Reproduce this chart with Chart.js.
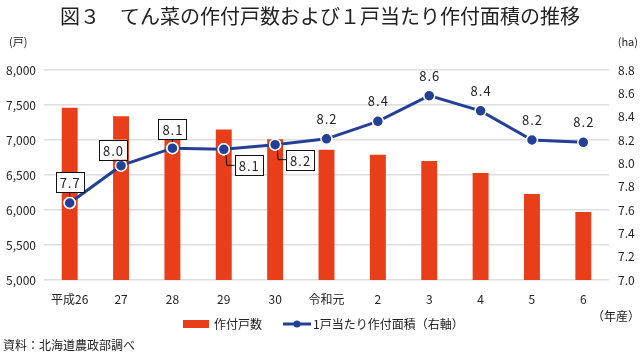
<!DOCTYPE html>
<html><head><meta charset="utf-8">
<script src="https://cdn.jsdelivr.net/npm/chart.js@4/dist/chart.umd.min.js"></script>
<style>html,body{margin:0;padding:0;background:#fff;}canvas{display:block;}</style>
</head><body>
<canvas id="c" width="640" height="355"></canvas>
<script>
const categories = ['平成26','27','28','29','30','令和元','2','3','4','5','6'];
const households = [7460,7340,7240,7150,7010,6860,6790,6700,6530,6230,5970];
const areaPerHousehold = [7.66,7.98,8.13,8.12,8.16,8.21,8.36,8.58,8.45,8.20,8.18];
const areaLabels = ['7.7','8.0','8.1','8.1','8.2','8.2','8.4','8.6','8.4','8.2','8.2'];
const leftAxis = {min:5000, max:8000, step:500};
const rightAxis = {min:7.0, max:8.8, step:0.2};
const seriesNames = ['作付戸数','1戸当たり作付面積（右軸）'];
const titleText = '図３　てん菜の作付戸数および１戸当たり作付面積の推移';

const FONT = '"Noto Sans CJK JP","Noto Sans",sans-serif';
const RED = '#e83e1a';
const NAVY = '#233f96';
const TXT = '#222';

const deco = {
  id:'deco',
  afterDatasetsDraw(chart){
    const ctx = chart.ctx;
    const meta = chart.getDatasetMeta(1);
    ctx.save();
    ctx.font = '13px ' + FONT;
    if ('letterSpacing' in ctx) ctx.letterSpacing = '1px';
    ctx.textAlign = 'center';
    ctx.textBaseline = 'middle';
    ctx.lineWidth = 1;
    ctx.strokeStyle = '#111';
    meta.data.forEach((pt, i) => {
      const x = pt.x, y = pt.y;
      const t = areaLabels[i];
      const bw = 28, bh = 20;
      let cx, cy, boxed = true;
      if (i === 0) { cx = x; cy = y - 21; }
      else if (i === 1) { cx = x - 8; cy = y - 16; }
      else if (i === 2) { cx = x; cy = y - 19; }
      else if (i === 3) { cx = x + 25; cy = y + 16; }
      else if (i === 4) { cx = x + 25; cy = y + 15; }
      else { boxed = false; cx = x; cy = y - 21; }
      if (boxed) {
        ctx.beginPath();
        if (i === 3 || i === 4) {
          ctx.moveTo(x + 2, y + 3);
          ctx.lineTo(x + 3, cy);
          ctx.lineTo(cx - bw/2, cy);
        } else if (i === 1) {
          ctx.moveTo(cx + 2, cy + bh/2);
          ctx.lineTo(x, y);
        } else {
          ctx.moveTo(x, cy + bh/2);
          ctx.lineTo(x, y);
        }
        ctx.stroke();
        ctx.beginPath();
        ctx.arc(x, y, 5.5, 0, Math.PI*2);
        ctx.fillStyle = NAVY; ctx.fill();
        ctx.strokeStyle = '#fff'; ctx.lineWidth = 1.5; ctx.stroke();
        ctx.strokeStyle = '#111'; ctx.lineWidth = 1;
        ctx.fillStyle = '#fff';
        ctx.fillRect(cx - bw/2, cy - bh/2, bw, bh);
        ctx.strokeRect(Math.round(cx - bw/2) + 0.5, Math.round(cy - bh/2) + 0.5, bw, bh);
      }
      ctx.fillStyle = TXT;
      ctx.fillText(t, cx + 0.5, cy + 1);
    });
    ctx.restore();
  },
  afterDraw(chart){
    const ctx = chart.ctx;
    ctx.save();
    ctx.fillStyle = TXT;
    ctx.textBaseline = 'middle';
    ctx.font = '20px ' + FONT;
    ctx.textAlign = 'center';
    ctx.fillText(titleText, 320, 16);
    ctx.font = '11px ' + FONT;
    ctx.textAlign = 'left';
    ctx.fillText('(戸)', 9, 42);
    ctx.textAlign = 'right';
    ctx.fillText('(ha)', 638, 42);
    ctx.font = '12px ' + FONT;
    ctx.fillText('（年産）', 640, 316);
    ctx.textAlign = 'left';
    ctx.fillText('資料：北海道農政部調べ', 3, 345);
    ctx.fillStyle = RED;
    ctx.fillRect(183, 320, 26, 8);
    ctx.fillStyle = TXT;
    ctx.fillText(seriesNames[0], 214, 324);
    ctx.strokeStyle = NAVY; ctx.lineWidth = 3;
    ctx.beginPath(); ctx.moveTo(283, 324); ctx.lineTo(311, 324); ctx.stroke();
    ctx.beginPath(); ctx.arc(297, 324, 3.5, 0, Math.PI*2); ctx.fillStyle = NAVY; ctx.fill();
    ctx.fillStyle = TXT;
    ctx.fillText(seriesNames[1], 313, 324);
    ctx.restore();
  }
};

new Chart(document.getElementById('c'), {
  data: {
    labels: categories,
    datasets: [
      { type:'bar', label: seriesNames[0], data: households, yAxisID:'y',
        backgroundColor: RED, borderWidth: 0, barPercentage: 0.31, categoryPercentage: 1.0, order: 2 },
      { type:'line', label: seriesNames[1], data: areaPerHousehold, yAxisID:'y1',
        borderColor: NAVY, borderWidth: 3, tension: 0,
        pointRadius: 5.5, pointBackgroundColor: NAVY, pointBorderColor:'#fff', pointBorderWidth:1.5, order: 1 }
    ]
  },
  options: {
    responsive:false, animation:false, devicePixelRatio:1,
    layout:{ padding:{ top:70, left:0, right:0, bottom:0 } },
    plugins:{ legend:{display:false}, title:{display:false}, tooltip:{enabled:false} },
    scales:{
      x:{ grid:{display:false}, border:{display:false},
          ticks:{ font:{size:12, family:FONT}, color:TXT, padding:4, maxRotation:0, autoSkip:false },
          afterFit(s){ s.height = 75; } },
      y:{ position:'left', min:leftAxis.min, max:leftAxis.max,
          grid:{ color:'#dedede', lineWidth:1.5, drawTicks:false }, border:{display:false},
          ticks:{ stepSize:leftAxis.step, font:{size:12, family:FONT}, color:TXT, padding:8,
                  callback:v => v.toLocaleString('en-US') },
          afterFit(s){ s.width = 44; } },
      y1:{ position:'right', min:rightAxis.min, max:rightAxis.max,
          grid:{display:false, drawTicks:false}, border:{display:false},
          ticks:{ stepSize:rightAxis.step, font:{size:12, family:FONT}, color:TXT, padding:9,
                  callback:v => Number(v).toFixed(1) },
          afterFit(s){ s.width = 31; } }
    }
  },
  plugins:[deco]
});
</script>
</body></html>
